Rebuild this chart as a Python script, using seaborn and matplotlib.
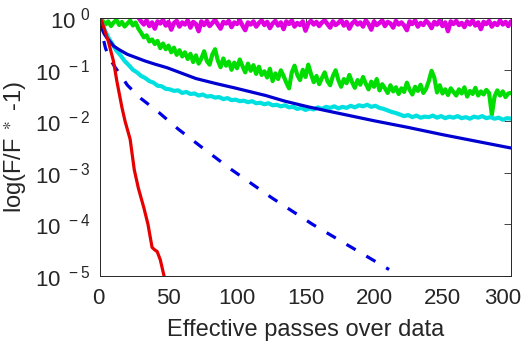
import numpy as np
import pandas as pd
import matplotlib
matplotlib.use("Agg")
import matplotlib.pyplot as plt
import matplotlib.transforms as mtransforms
import seaborn as sns

# ---- data (y stored as log10 of F/F* - 1) ----
red_x = [0, 1.2, 6, 9.8, 12.3, 16, 18.3, 22, 25, 28, 32, 35, 38, 40, 41.7, 44, 46.7, 48]
red_log = [0, -0.05, -0.44, -0.83, -1.22, -1.73, -2.0, -2.35, -2.94, -3.3, -3.68, -4.0,
           -4.45, -4.5, -4.53, -4.69, -5.0, -5.2]

dashed_x = [0, 2, 4, 7, 11, 15, 20, 30, 43, 57, 75, 96, 125, 155, 183, 211]
dashed_log = [0, -0.35, -0.58, -0.78, -0.95, -1.1, -1.3, -1.56, -1.83, -2.15, -2.52,
              -2.94, -3.48, -4.0, -4.44, -4.88]

solid_x = [0, 1, 2, 3, 5, 7, 10, 14, 20, 33, 40, 49, 60, 70, 85, 98, 121, 135, 152,
           175, 200, 225, 250, 275, 300]
solid_log = [0, -0.15, -0.24, -0.3, -0.38, -0.44, -0.54, -0.61, -0.70, -0.83, -0.89,
             -0.96, -1.07, -1.17, -1.27, -1.35, -1.50, -1.61, -1.72, -1.85, -1.99,
             -2.12, -2.26, -2.39, -2.52]

cyan_x = list(range(0, 301, 3))
cyan_log = [0.00, -0.20, -0.37, -0.50, -0.63, -0.72, -0.83, -0.91, -1.00, -1.05,
            -1.12, -1.16, -1.22, -1.25, -1.31, -1.32, -1.37, -1.38, -1.41, -1.40,
            -1.45, -1.43, -1.47, -1.46, -1.50, -1.48, -1.52, -1.51, -1.54, -1.53,
            -1.57, -1.55, -1.59, -1.58, -1.61, -1.60, -1.63, -1.61, -1.65, -1.64,
            -1.67, -1.65, -1.69, -1.68, -1.71, -1.69, -1.73, -1.72, -1.76, -1.74,
            -1.78, -1.75, -1.77, -1.73, -1.76, -1.72, -1.74, -1.71, -1.75, -1.72,
            -1.74, -1.70, -1.73, -1.69, -1.71, -1.68, -1.72, -1.70, -1.74, -1.76,
            -1.79, -1.82, -1.84, -1.87, -1.90, -1.88, -1.92, -1.89, -1.93, -1.91,
            -1.92, -1.89, -1.93, -1.90, -1.94, -1.91, -1.93, -1.90, -1.94, -1.92,
            -1.95, -1.91, -1.93, -1.90, -1.94, -1.92, -1.95, -1.93, -1.97, -1.94,
            -1.95]

green_x = list(range(0, 301, 2))
green_log = [0.00, -0.05, -0.12, -0.06, -0.15, -0.08, -0.03, -0.13, -0.07, -0.16,
             -0.10, -0.04, -0.14, -0.08, -0.20, -0.28, -0.37, -0.33, -0.45, -0.41,
             -0.50, -0.44, -0.58, -0.49, -0.60, -0.53, -0.66, -0.57, -0.71, -0.62,
             -0.74, -0.66, -0.79, -0.69, -0.85, -0.72, -0.88, -0.78, -0.64, -0.83,
             -0.90, -0.70, -0.60, -0.82, -0.95, -0.78, -0.92, -0.84, -1.00, -0.86,
             -0.97, -0.80, -0.93, -1.05, -0.88, -1.02, -0.91, -1.08, -0.94, -1.10,
             -1.03, -1.15, -0.98, -1.22, -1.07, -1.18, -1.01, -1.12, -1.25, -1.36,
             -1.05, -0.92, -1.10, -1.20, -1.00, -1.14, -0.90, -1.08, -1.24, -1.12,
             -1.28, -1.16, -1.05, -1.22, -1.30, -1.12, -1.01, -1.20, -1.33, -1.18,
             -1.26, -1.10, -1.24, -1.35, -1.20, -1.29, -1.14, -1.27, -1.38, -1.23,
             -1.33, -1.18, -1.40, -1.28, -1.36, -1.45, -1.30, -1.42, -1.34, -1.47,
             -1.36, -1.43, -1.25, -1.39, -1.48, -1.33, -1.41, -1.29, -1.45, -1.37,
             -1.22, -1.02, -1.15, -1.44, -1.30, -1.46, -1.38, -1.49, -1.36, -1.43,
             -1.50, -1.38, -1.46, -1.34, -1.52, -1.41, -1.47, -1.35, -1.50, -1.42,
             -1.48, -1.39, -1.45, -1.87, -1.52, -1.40, -1.50, -1.42, -1.53, -1.46,
             -1.45]

magenta_x = list(range(0, 301, 2))
magenta_log = [0.08, 0.08, 0.08, 0.08, 0.08, 0.08, 0.08, 0.08, 0.08, 0.08,
               0.08, 0.08, 0.08, 0.08, 0.02, -0.06, -0.12, -0.04, -0.15, -0.08,
               -0.20, -0.06, -0.10, -0.03, -0.14, -0.07, -0.22, -0.09, -0.05, -0.16,
               -0.08, -0.12, -0.04, -0.18, -0.07, -0.11, -0.25, -0.06, -0.13, -0.05,
               -0.15, -0.09, -0.03, -0.12, -0.20, -0.07, -0.10, -0.05, -0.17, -0.08,
               -0.11, -0.04, -0.14, -0.23, -0.08, -0.12, -0.06, -0.16, -0.09, -0.04,
               -0.13, -0.07, -0.19, -0.10, -0.05, -0.14, -0.08, -0.21, -0.06, -0.11,
               -0.04, -0.16, -0.09, -0.13, -0.06, -0.24, -0.10, -0.05, -0.12, -0.07,
               -0.15, -0.08, -0.04, -0.11, -0.18, -0.06, -0.13, -0.09, -0.03, -0.14,
               -0.07, -0.20, -0.10, -0.05, -0.12, -0.08, -0.16, -0.04, -0.11, -0.22,
               -0.06, -0.13, -0.09, -0.04, -0.15, -0.07, -0.10, -0.18, -0.05, -0.12,
               -0.08, -0.14, -0.23, -0.06, -0.11, -0.04, -0.16, -0.09, -0.13, -0.05,
               -0.10, -0.19, -0.07, -0.12, -0.04, -0.15, -0.08, -0.25, -0.06, -0.11,
               -0.05, -0.13, -0.09, -0.17, -0.06, -0.12, -0.04, -0.14, -0.08, -0.21,
               -0.07, -0.11, -0.05, -0.16, -0.09, -0.13, -0.04, -0.12, -0.07, -0.15,
               -0.06]

y_ticks = [1e-5, 1e-4, 1e-3, 1e-2, 1e-1, 1e0]
y_tick_labels = [r'$10^{\ -5}$', r'$10^{\ -4}$', r'$10^{\ -3}$', r'$10^{\ -2}$',
                 r'$10^{\ -1}$', r'$10^{\ 0}$']
x_ticks = [0, 50, 100, 150, 200, 250, 300]

# ---- style ----
sns.set_style("white")
plt.rcParams['font.family'] = ['Liberation Sans', 'DejaVu Sans']
plt.rcParams['mathtext.default'] = 'regular'
plt.rcParams['axes.unicode_minus'] = False

fig = plt.figure(figsize=(5.28, 3.41), dpi=100)
ax = fig.add_axes([0.1894, 0.1915, 0.7784, 0.7548])

series = [
    (magenta_x, magenta_log, '#e000e0', 3.2, '-'),
    (green_x, green_log, '#00dd00', 3.0, '-'),
    (cyan_x, cyan_log, '#00e0e0', 3.0, '-'),
    (solid_x, solid_log, '#0000d0', 2.3, '-'),
    (dashed_x, dashed_log, '#0000e6', 2.3, (0, (3.3, 3.9))),
    (red_x, red_log, '#e60000', 2.3, '-'),
]
for xs, logs, col, lw, ls in series:
    df = pd.DataFrame({'x': xs, 'y': np.power(10.0, logs)})
    sns.lineplot(data=df, x='x', y='y', color=col, linewidth=lw, linestyle=ls,
                 sort=False, estimator=None, ax=ax)

ax.set_yscale('log')
ax.set_xlim(0, 300)
ax.set_ylim(1e-5, 1e0)
ax.set_xticks(x_ticks)
ax.set_xticklabels([str(t) for t in x_ticks])
ax.set_yticks(y_ticks)
ax.set_yticklabels(y_tick_labels)

ax.tick_params(which='both', direction='in', top=True, right=True,
               colors='#262626', labelsize=16, width=0.6)
ax.tick_params(which='major', length=5)
ax.tick_params(axis='x', which='major', pad=9)
ax.tick_params(axis='y', which='major', pad=7)
ax.tick_params(which='minor', length=2.5)
for s in ax.spines.values():
    s.set_color('#262626')
    s.set_linewidth(0.7)

# the last x label sits a bit inside the figure edge, as in the reference
last = ax.get_xticklabels()[-1]
last.set_transform(last.get_transform() +
                   mtransforms.ScaledTranslation(-8 / 100, 0, fig.dpi_scale_trans))
first = ax.get_xticklabels()[0]
first.set_transform(first.get_transform() +
                    mtransforms.ScaledTranslation(-2 / 100, 0, fig.dpi_scale_trans))

ax.set_xlabel('Effective passes over data', fontsize=17, color='#262626', labelpad=7)
ax.set_ylabel(r'log(F/F$^{\ \ast}$ -1)', fontsize=17, color='#262626', labelpad=4)

fig.savefig('out.png', dpi=100)
